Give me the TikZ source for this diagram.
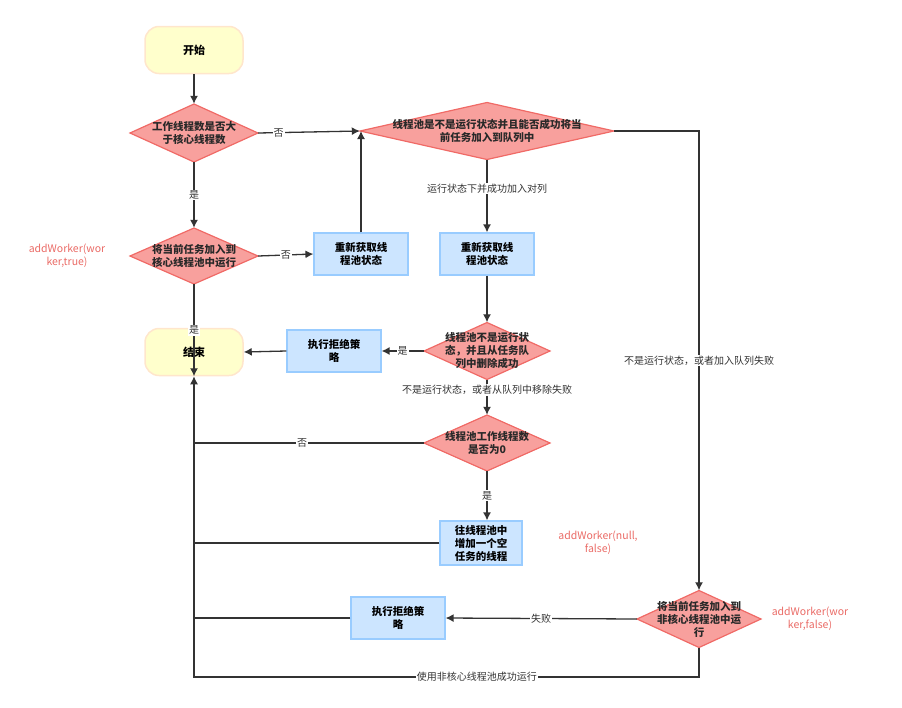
\documentclass[tikz,border=0pt]{standalone}
\usepackage{fontspec}
\setmainfont{Noto Sans CJK SC}
\begin{document}
\definecolor{dfill}{HTML}{F8A09D}\definecolor{dline}{HTML}{F06A66}
\definecolor{bfill}{HTML}{CCE5FF}\definecolor{bline}{HTML}{99CCFF}
\definecolor{sfill}{HTML}{FFFFCC}\definecolor{sline}{HTML}{FFE6CC}
\definecolor{ln}{HTML}{333333}\definecolor{rd}{HTML}{EA6B66}
\begin{tikzpicture}[x=1pt,y=-1pt,
  every node/.style={font=\fontsize{10.5}{13}\selectfont},
  term/.style={draw=sline,line width=1.5pt,fill=sfill,rounded corners=14pt,minimum width=98pt,minimum height=47pt,font=\fontsize{11}{13}\selectfont\bfseries},
  box/.style={draw=bline,line width=1.2pt,fill=bfill,minimum width=94pt,minimum height=42pt,align=center,text width=80pt,inner sep=1pt,font=\fontsize{10.5}{13}\selectfont\bfseries},
  dtxt/.style={minimum width=#1,inner sep=0pt,align=center,font=\fontsize{10.5}{13}\selectfont\bfseries},
  dia/.style={draw=dline,line width=1.2pt,fill=dfill},
  arr/.style={draw=ln,line width=1.3pt,-{Latex[length=8pt,width=8pt]}},
  ln/.style={draw=ln,line width=1.3pt},
  lab/.style={fill=white,inner sep=1pt,text=ln,font=\fontsize{10}{12}\selectfont},
  red/.style={text=rd,align=center,font=\fontsize{10.5}{13}\selectfont}]
\usetikzlibrary{arrows.meta}
\useasboundingbox (0,0) rectangle (902,707);
\newcommand\mydia[6]{%
  \fill[dia] (#2-#4/2,#3) -- (#2,#3-#5/2) -- (#2+#4/2,#3) -- (#2,#3+#5/2) -- cycle;
  \node[minimum width=#4,minimum height=#5,inner sep=0pt] (#1) at (#2,#3) {};
  \node[align=center,font=\fontsize{10.5}{13}\selectfont\bfseries,text=ln!80!black] at (#2,#3) {#6};}
\node[term] (s) at (194,50) {开始};
\node[term] (e) at (194,352) {结束};
\mydia{d1}{194}{133}{128}{58}{工作线程数是否大\\于核心线程数}
\mydia{d2}{487}{131}{254}{57}{线程池是不是运行状态并且能否成功将当\\前任务加入到队列中}
\mydia{d3}{194}{256}{128}{56}{将当前任务加入到\\核心线程池中运行}
\mydia{d4}{487}{351}{126}{57}{线程池不是运行状\\态，并且从任务队\\列中删除成功}
\mydia{d5}{487}{443}{126}{56}{线程池工作线程数\\是否为0}
\mydia{d6}{699}{619}{124}{57}{将当前任务加入到\\非核心线程池中运\\行}
\node[box] (b1) at (361,254) {重新获取线\\程池状态};
\node[box] (b2) at (487,254) {重新获取线\\程池状态};
\node[box] (b3) at (334,351) {执行拒绝策\\略};
\node[box,minimum width=82pt,minimum height=44pt,text width=70pt] (b4) at (481,543) {往线程池中\\增加一个空\\任务的线程};
\node[box] (b5) at (398,618) {执行拒绝策\\略};
\node[red] at (67,256) {addWorker(wor\\ker,true)};
\node[red] at (598,543) {addWorker(null,\\false)};
\node[red] at (810,619) {addWorker(wor\\ker,false)};
\draw[arr] (s) -- (d1);
\draw[arr] (d1.east) -- node[lab,pos=0.2]{否} (d2.west);
\draw[arr] (d1.south) -- node[lab]{是} (d3.north);
\draw[arr] (d3.east) -- node[lab]{否} (b1.west);
\draw[arr] (d3.south) -- node[lab]{是} (e.south);
\draw[arr] (b1.north) -- (b1.north |- d2.west);
\draw[arr] (d2.south) -- node[lab,pos=0.4]{运行状态下并成功加入对列} (b2.north);
\draw[arr] (d2.east) -| node[lab,pos=0.75]{不是运行状态，或者加入队列失败} (d6.north);
\draw[arr] (b2.south) -- (d4.north);
\draw[arr] (d4.west) -- node[lab]{是} (b3.east);
\draw[arr] (b3.west) -- (e.east);
\draw[arr] (d4.south) -- node[lab,pos=0.3]{不是运行状态，或者从队列中移除失败} (d5.north);
\draw[arr] (d5.south) -- node[lab]{是} (d5.south |- b4.north);
\draw[ln] (d5.west) -- node[lab,pos=0.53]{否} (194,443);
\draw[ln] (b4.west) -- (194,543);
\draw[arr] (d6.west) -- node[lab]{失败} (b5.east);
\draw[ln] (b5.west) -- (194,618);
\draw[arr] (d6.south) |- node[lab,pos=0.72]{使用非核心线程池成功运行} (194,677) -- (e.south);
\end{tikzpicture}
\end{document}
